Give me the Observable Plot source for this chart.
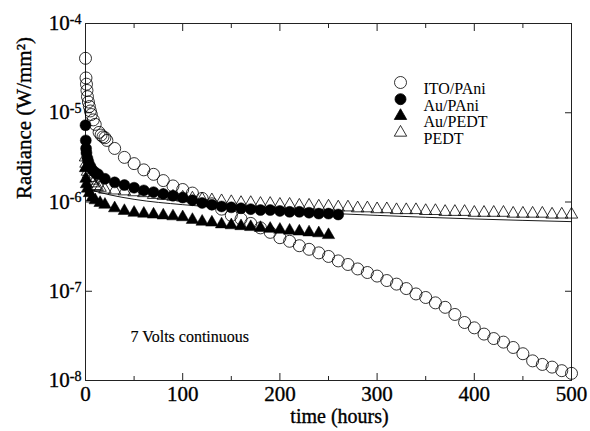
<!DOCTYPE html>
<html>
<head>
<meta charset="utf-8">
<script src="https://cdn.jsdelivr.net/npm/d3@7"></script>
<script src="https://cdn.jsdelivr.net/npm/@observablehq/plot@0.6"></script>
<style>
  html, body { margin: 0; padding: 0; background: #fff; }
  #chart { width: 590px; height: 431px; }
</style>
</head>
<body>
<div id="chart"></div>
<script>
// ---- Data (time in hours, log10 of radiance in W/mm^2) ----
const itoPAniTime = [0,0.5,1,1.5,2,3,4,5,6,8,10,14,16,18,20,22,
  30,40,50,60,70,80,90,100,110,120,130,140,150,160,170,180,190,200,
  210,220,230,240,250,260,270,280,290,300,310,320,330,340,350,360,
  370,380,390,400,410,420,430,440,450,460,470,480,490,500];
const itoPAniLog = [-4.39,-4.61,-4.68,-4.75,-4.82,-4.88,-4.93,-4.98,-5.02,-5.08,-5.13,-5.22,-5.25,-5.27,-5.28,-5.31,
  -5.40,-5.50,-5.57,-5.64,-5.69,-5.76,-5.82,-5.86,-5.90,-5.96,-6.02,-6.08,-6.15,-6.19,-6.24,-6.29,-6.34,-6.40,
  -6.44,-6.49,-6.53,-6.57,-6.61,-6.66,-6.70,-6.75,-6.79,-6.83,-6.88,-6.92,-6.97,-7.03,-7.07,-7.13,
  -7.18,-7.26,-7.35,-7.41,-7.48,-7.53,-7.57,-7.63,-7.70,-7.78,-7.82,-7.85,-7.89,-7.92];

const auPAniTime = [0,0.3,0.6,1,2,3,5,7,10,13,20,
  30,40,50,60,70,80,90,100,110,120,130,140,150,160,170,180,190,200,210,220,230,240,250,260];
const auPAniLog = [-5.14,-5.31,-5.40,-5.45,-5.51,-5.55,-5.60,-5.64,-5.67,-5.69,-5.74,
  -5.78,-5.81,-5.84,-5.87,-5.89,-5.91,-5.93,-5.95,-5.98,-6.01,-6.03,-6.05,-6.06,-6.07,-6.08,-6.09,-6.09,-6.10,-6.11,-6.11,-6.12,-6.13,-6.13,-6.14];

const auPEDTTime = [0,0.5,1,2,4,7,10,15,20,
  30,40,50,60,70,80,90,100,110,120,130,140,150,160,170,180,190,200,210,220,230,240,250];
const auPEDTLog = [-5.62,-5.74,-5.80,-5.85,-5.90,-5.95,-5.98,-6.01,-6.03,
  -6.07,-6.10,-6.12,-6.13,-6.14,-6.15,-6.16,-6.17,-6.20,-6.22,-6.23,-6.25,-6.26,-6.27,-6.28,-6.29,-6.30,-6.31,-6.32,-6.33,-6.34,-6.35,-6.37];

const pedtTime = [0,0.5,1,2,3,4,6,8,10,12,15,20,
  30,40,50,60,70,80,90,100,110,120,130,140,150,160,170,180,190,200,
  210,220,230,240,250,260,270,280,290,300,310,320,330,340,350,360,
  370,380,390,400,410,420,430,440,450,460,470,480,490,500];
const pedtLog = [-5.50,-5.57,-5.61,-5.66,-5.69,-5.73,-5.76,-5.79,-5.82,-5.83,-5.84,-5.86,
  -5.87,-5.88,-5.89,-5.90,-5.92,-5.93,-5.94,-5.95,-5.96,-5.97,-5.98,-5.99,-6.00,-6.01,-6.01,-6.02,-6.02,-6.03,
  -6.03,-6.04,-6.04,-6.05,-6.05,-6.06,-6.06,-6.07,-6.07,-6.08,-6.08,-6.09,-6.09,-6.09,-6.10,-6.10,
  -6.11,-6.11,-6.11,-6.12,-6.12,-6.12,-6.12,-6.13,-6.13,-6.13,-6.13,-6.14,-6.14,-6.14];

const fitTime = [0,25,50,100,150,200,300,400,500];
const fitLog = [-5.85,-5.92,-5.97,-6.03,-6.07,-6.10,-6.15,-6.19,-6.22];

const legendNames = ["ITO/PAni", "Au/PAni", "Au/PEDT", "PEDT"];
const xTicks = [0,100,200,300,400,500];
const xMinorTicks = [50,150,250,350,450];
const yTicks = [1e-8,1e-7,1e-6,1e-5,1e-4];
const annotation = "7 Volts continuous";
const xTitle = "time (hours)";
const yTitle = "Radiance (W/mm²)";

// ---- Build tables ----
const toRows = (t, l) => t.map((d, i) => ({t: d, r: Math.pow(10, l[i])}));
const ito = toRows(itoPAniTime, itoPAniLog);
const auPAni = toRows(auPAniTime, auPAniLog);
const auPEDT = toRows(auPEDTTime, auPEDTLog);
const pedt = toRows(pedtTime, pedtLog);
const fit = toRows(fitTime, fitLog);

const serif = "Liberation Serif";
const legendStyles = [
  {symbol: "circle", fill: "none", stroke: "#000", r: 6},
  {symbol: "circle", fill: "#000", stroke: "#000", r: 5.5},
  {symbol: "triangle", fill: "#000", stroke: "#000", r: 4.6},
  {symbol: "triangle", fill: "none", stroke: "#000", r: 4.6}
];

const legendMarks = legendNames.flatMap((name, i) => [
  Plot.dot([name], {frameAnchor: "top-left", dx: 315, dy: 59 + i * 16.7,
    symbol: legendStyles[i].symbol, r: legendStyles[i].r,
    fill: legendStyles[i].fill, stroke: legendStyles[i].stroke, strokeWidth: 0.8}),
  Plot.text([name], {frameAnchor: "top-left", dx: 338, dy: 59 + i * 16.7,
    text: d => d, textAnchor: "start", fontSize: 16, fontFamily: serif, fill: "#000"})
]);

const heavy = {stroke: "#000", strokeWidth: 0.35};

const plot = Plot.plot({
  width: 590,
  height: 431,
  marginLeft: 85,
  marginRight: 19,
  marginTop: 23,
  marginBottom: 51,
  style: {fontFamily: serif, background: "#fff", color: "#000"},
  x: {domain: [0, 500], label: null},
  y: {type: "log", domain: [1e-8, 1e-4], label: null},
  marks: [
    Plot.frame({stroke: "#222", strokeWidth: 1}),
    // inward ticks
    Plot.axisX(xTicks, {anchor: "bottom", tickSize: -7, tickFormat: () => "", stroke: "#222"}),
    Plot.axisX(xTicks, {anchor: "top", tickSize: -7, tickFormat: () => "", stroke: "#222"}),
    Plot.axisX(xMinorTicks, {anchor: "bottom", tickSize: -4, tickFormat: () => "", stroke: "#222"}),
    Plot.axisX(xMinorTicks, {anchor: "top", tickSize: -4, tickFormat: () => "", stroke: "#222"}),
    Plot.axisY(yTicks, {anchor: "left", tickSize: -7, tickFormat: () => "", stroke: "#222"}),
    Plot.axisY(yTicks, {anchor: "right", tickSize: -7, tickFormat: () => "", stroke: "#222"}),
    // fit line
    Plot.line(fit, {x: "t", y: "r", stroke: "#000", strokeWidth: 0.9, curve: "monotone-x"}),
    // series
    Plot.dot(ito, {x: "t", y: "r", symbol: "circle", r: 6, fill: "none", stroke: "#000", strokeWidth: 0.8}),
    Plot.dot(pedt, {x: "t", y: "r", symbol: "triangle", r: 4.6, fill: "none", stroke: "#000", strokeWidth: 0.8}),
    Plot.dot(auPAni, {x: "t", y: "r", symbol: "circle", r: 5.5, fill: "#000", stroke: "#000", strokeWidth: 0.5}),
    Plot.dot(auPEDT, {x: "t", y: "r", symbol: "triangle", r: 4.6, fill: "#000", stroke: "#000", strokeWidth: 0.5}),
    // legend
    ...legendMarks,
    // annotation
    Plot.text([annotation], {frameAnchor: "top-left", dx: 45, dy: 307, text: d => d, textAnchor: "start",
      fontSize: 16, fontFamily: serif, fill: "#000", stroke: "#000", strokeWidth: 0.15}),
    // tick labels
    Plot.text(xTicks, {x: d => d, frameAnchor: "bottom", dy: 20, text: d => String(d),
      fontSize: 21, fontFamily: serif, fill: "#000", ...heavy}),
    Plot.text(yTicks, {y: d => d, frameAnchor: "left", dx: -4, textAnchor: "end",
      text: d => "10^" + Math.round(Math.log10(d)), fontSize: 21, fontFamily: serif, fill: "#000", ...heavy}),
    // axis titles
    Plot.text([xTitle], {frameAnchor: "bottom", dx: 11, dy: 42, text: d => d,
      fontSize: 20, fontFamily: serif, fill: "#000", ...heavy}),
    Plot.text([yTitle], {frameAnchor: "left", dx: -61, dy: -3, rotate: -90, text: d => d,
      fontSize: 21, fontFamily: serif, fill: "#000", ...heavy})
  ]
});

// superscript exponents on y tick labels
d3.select(plot).selectAll("text").each(function() {
  const s = this.textContent;
  const m = /^10\^(-?\d+)$/.exec(s);
  if (m) {
    const el = d3.select(this);
    el.text("");
    el.append("tspan").text("10");
    el.append("tspan").attr("dy", "-0.45em").attr("font-size", "14").text(m[1]);
  }
});

document.getElementById("chart").appendChild(plot);
</script>
</body>
</html>
